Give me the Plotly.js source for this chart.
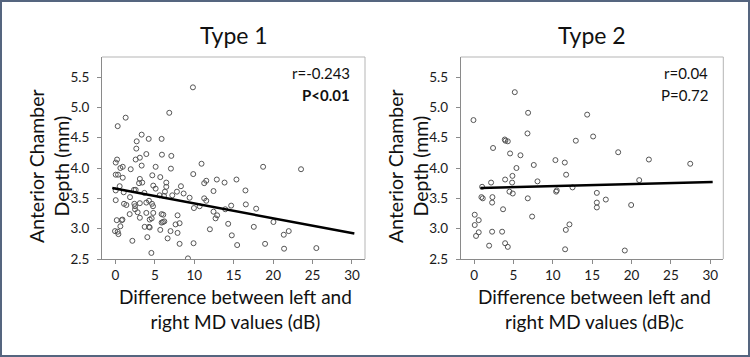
<!DOCTYPE html>
<html>
<head>
<meta charset="utf-8">
<script src="https://cdn.plot.ly/plotly-3.0.1.min.js"></script>
<style>
  html, body { margin: 0; padding: 0; background: #ffffff; }
  #wrap { position: relative; width: 750px; height: 357px; }
  #chart { position: absolute; left: 0; top: 0; width: 750px; height: 357px; }
  #frame { position: absolute; left: 0; top: 0; width: 750px; height: 357px; box-sizing: border-box;
           border: 2px solid #55657f; pointer-events: none; }
</style>
</head>
<body>
<div id="wrap"><div id="chart"></div><div id="frame"></div></div>
<script>
// ---------- data ----------
const panelTitles = ["Type 1", "Type 2"];
const yTitle = "Anterior Chamber<br>Depth (mm)";
const xTitles = ["Difference between left and<br>right MD values (dB)",
                 "Difference between left and<br>right MD values (dB)c"];
const statsR = ["r=-0.243", "r=0.04"];
const statsP = ["<b>P<0.01</b>", "P=0.72"];

const xTickVals = [0, 5, 10, 15, 20, 25, 30];
const yTickVals = [2.5, 3.0, 3.5, 4.0, 4.5, 5.0, 5.5];
const yTickText = ["2.5", "3.0", "3.5", "4.0", "4.5", "5.0", "5.5"];

const type1X = [9.83, 6.83, 1.30, 0.29, 3.33, 2.70, 4.22, 5.86, 2.65, 3.92, 5.90, 7.09, 3.10, 2.57, 0.21, 0.04,
  0.93, 3.33, 10.92, 5.10, 7.04, 1.94, 0.63, 18.73, 23.54, 0.04, 0.33, 0.93, 4.68, 5.69, 9.87, 3.10,
  11.52, 11.26, 12.86, 15.35, 13.84, 6.45, 3.00, 3.40, 0.54, 4.80, 6.45, 8.31, 5.10, 2.36, 2.57, 0.04,
  1.05, 6.28, 7.80, 8.65, 12.44, 16.49, 3.67, 1.85, 5.61, 6.16, 7.21, 9.41, 11.26, 11.52, 0.04, 1.09,
  1.39, 2.40, 2.49, 2.49, 3.10, 3.92, 4.26, 4.64, 4.77, 9.96, 10.68, 13.93, 14.68, 16.54, 17.85, 1.81,
  2.82, 3.92, 4.80, 5.86, 6.07, 7.88, 12.44, 12.90, 12.70, 3.10, 4.35, 4.60, 0.17, 0.80, 0.89, 5.86,
  6.03, 6.20, 7.63, 8.14, 20.04, 0.63, 3.71, 4.26, 4.35, 5.69, 6.99, 7.88, 11.98, 14.30, 17.55, 21.98,
  21.35, -0.05, 0.29, 0.38, 4.05, 6.62, 2.15, 8.14, 9.91, 14.76, 15.44, 18.98, 21.39, 25.48, 4.56, 9.20];
const type1Y = [5.33, 4.91, 4.83, 4.69, 4.55, 4.44, 4.48, 4.48, 4.32, 4.23, 4.22, 4.20, 4.17, 4.14, 4.14, 4.09,
  4.02, 4.04, 4.07, 4.02, 3.99, 3.98, 4.00, 4.02, 3.98, 3.89, 3.89, 3.84, 3.88, 3.85, 3.90, 3.82,
  3.79, 3.75, 3.81, 3.81, 3.76, 3.76, 3.75, 3.76, 3.70, 3.71, 3.69, 3.70, 3.66, 3.64, 3.64, 3.63,
  3.60, 3.61, 3.61, 3.58, 3.62, 3.63, 3.59, 3.52, 3.55, 3.54, 3.55, 3.51, 3.50, 3.46, 3.47, 3.41,
  3.39, 3.41, 3.37, 3.32, 3.42, 3.43, 3.46, 3.41, 3.37, 3.34, 3.37, 3.32, 3.38, 3.40, 3.33, 3.24,
  3.27, 3.26, 3.26, 3.24, 3.23, 3.22, 3.28, 3.22, 3.17, 3.18, 3.15, 3.17, 3.14, 3.14, 3.15, 3.10,
  3.11, 3.12, 3.07, 3.09, 3.11, 3.04, 3.03, 3.03, 3.02, 2.98, 2.96, 2.93, 2.99, 3.08, 3.03, 2.96,
  2.90, 2.96, 2.95, 2.91, 2.86, 2.84, 2.80, 2.75, 2.76, 2.89, 2.73, 2.75, 2.67, 2.68, 2.60, 2.51];

const type2X = [5.17, -0.08, 6.86, 14.36, 6.78, 15.12, 3.90, 3.98, 4.28, 12.92, 2.41, 4.57, 5.89, 18.30, 22.20,
  27.45, 10.33, 11.52, 7.58, 5.38, 11.69, 4.87, 3.94, 8.05, 2.16, 4.83, 20.97, 1.02, 12.50, 10.50,
  10.42, 4.49, 4.91, 15.59, 0.93, 1.10, 2.33, 6.82, 2.29, 15.59, 15.59, 16.73, 19.95, 3.68, 0.08,
  0.59, 0.08, 7.37, 12.11, 11.65, 0.59, 0.25, 2.29, 3.56, 1.91, 3.94, 4.28, 11.56, 19.14];
const type2Y = [5.25, 4.79, 4.91, 4.88, 4.57, 4.52, 4.47, 4.45, 4.44, 4.45, 4.33, 4.24, 4.21, 4.26, 4.14,
  4.07, 4.13, 4.09, 4.05, 4.00, 3.89, 3.87, 3.81, 3.78, 3.76, 3.76, 3.80, 3.69, 3.68, 3.63,
  3.61, 3.61, 3.58, 3.59, 3.52, 3.50, 3.52, 3.50, 3.43, 3.43, 3.35, 3.48, 3.39, 3.32, 3.23,
  3.14, 3.06, 3.20, 3.07, 2.98, 2.94, 2.88, 2.95, 2.95, 2.72, 2.76, 2.70, 2.66, 2.64];

const fit1X = [-0.4, 30.3];
const fit1Y = [3.67, 2.92];
const fit2X = [0.8, 30.3];
const fit2Y = [3.67, 3.77];

// ---------- styling / layout ----------
const FONT = "Lato, 'Open Sans', 'Liberation Sans', sans-serif";
const W = 750, H = 357;
const px = v => v / W;
const py = v => 1 - v / H;

const markerStyle = { symbol: "circle-open", size: 5, color: "#555555", line: { width: 1, color: "#555555" } };
const lineStyle = { color: "#000000", width: 2.5 };

const traces = [
  { x: type1X, y: type1Y, type: "scatter", mode: "markers", marker: markerStyle, xaxis: "x", yaxis: "y", hoverinfo: "x+y" },
  { x: fit1X, y: fit1Y, type: "scatter", mode: "lines", line: lineStyle, xaxis: "x", yaxis: "y" },
  { x: type2X, y: type2Y, type: "scatter", mode: "markers", marker: markerStyle, xaxis: "x2", yaxis: "y2", hoverinfo: "x+y" },
  { x: fit2X, y: fit2Y, type: "scatter", mode: "lines", line: lineStyle, xaxis: "x2", yaxis: "y2" }
];

const xRange = [-1.7, 31.65];
const yRange = [2.5, 5.83];
const panelsPx = [[102, 365], [460.7, 723.3]];
const topPx = 57, botPx = 259;

function xAxis(i) {
  return {
    domain: [px(panelsPx[i][0]), px(panelsPx[i][1])],
    anchor: i === 0 ? "y" : "y2",
    range: xRange, tickvals: xTickVals, ticktext: xTickVals.map(String),
    ticks: "outside", ticklen: 4, tickwidth: 1, tickcolor: "#8a8a8a",
    showline: true, linecolor: "#8a8a8a", linewidth: 1,
    showgrid: false, zeroline: false,
    tickfont: { family: FONT, size: 13.5, color: "#1a1a1a" }
  };
}
function yAxis(i) {
  return {
    domain: [py(botPx), py(topPx)],
    anchor: i === 0 ? "x" : "x2",
    range: yRange, tickvals: yTickVals, ticktext: yTickText,
    ticks: "outside", ticklen: 4, tickwidth: 1, tickcolor: "#8a8a8a",
    ticklabelstandoff: 5,
    showline: true, linecolor: "#8a8a8a", linewidth: 1,
    showgrid: false, zeroline: false,
    tickfont: { family: FONT, size: 13.5, color: "#1a1a1a" }
  };
}

const annotations = [];
const shapes = [];
const titleCenters = [234, 592];
const yTitleX = [49, 408];
panelsPx.forEach((p, i) => {
  annotations.push({ text: panelTitles[i], xref: "paper", yref: "paper", x: px(titleCenters[i]), y: py(35),
    showarrow: false, xanchor: "center", yanchor: "middle", font: { family: FONT, size: 23, color: "#111111" } });
  annotations.push({ text: xTitles[i], xref: "paper", yref: "paper", x: px((p[0] + p[1]) / 2 + 2), y: py(309),
    showarrow: false, xanchor: "center", yanchor: "middle", align: "center",
    font: { family: FONT, size: 19, color: "#111111" } });
  annotations.push({ text: yTitle, xref: "paper", yref: "paper", x: px(yTitleX[i]), y: py(166),
    showarrow: false, xanchor: "center", yanchor: "middle", textangle: -90, align: "center",
    font: { family: FONT, size: 19.5, color: "#111111" } });
  annotations.push({ text: statsR[i], xref: "paper", yref: "paper", x: px(p[1] - 13), y: py(73),
    showarrow: false, xanchor: "right", yanchor: "middle", font: { family: FONT, size: 15, color: "#111111" } });
  annotations.push({ text: statsP[i], xref: "paper", yref: "paper", x: px(p[1] - 13), y: py(95),
    showarrow: false, xanchor: "right", yanchor: "middle", font: { family: FONT, size: 15, color: "#111111" } });
  // light frame on top and right of each panel
  shapes.push({ type: "line", xref: "paper", yref: "paper", x0: px(p[0]), x1: px(p[1]), y0: py(topPx), y1: py(topPx),
    line: { color: "#b5b5b5", width: 1 } });
  shapes.push({ type: "line", xref: "paper", yref: "paper", x0: px(p[1]), x1: px(p[1]), y0: py(topPx), y1: py(botPx),
    line: { color: "#b5b5b5", width: 1 } });
});

const layout = {
  width: W, height: H,
  margin: { l: 0, r: 0, t: 0, b: 0 },
  paper_bgcolor: "#ffffff", plot_bgcolor: "#ffffff",
  showlegend: false,
  font: { family: FONT, color: "#111111" },
  xaxis: xAxis(0), yaxis: yAxis(0),
  xaxis2: xAxis(1), yaxis2: yAxis(1),
  annotations: annotations, shapes: shapes
};

Plotly.newPlot("chart", traces, layout, { staticPlot: true, displayModeBar: false });
</script>
</body>
</html>
